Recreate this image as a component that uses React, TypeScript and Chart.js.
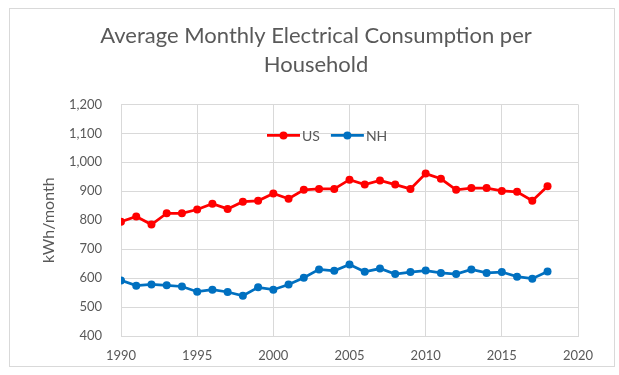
import React, { useEffect, useRef } from 'react';
import { Chart, registerables } from 'chart.js';

Chart.register(...registerables);

const years = [1990, 1991, 1992, 1993, 1994, 1995, 1996, 1997, 1998, 1999, 2000, 2001, 2002, 2003, 2004, 2005, 2006, 2007, 2008, 2009, 2010, 2011, 2012, 2013, 2014, 2015, 2016, 2017, 2018];
const usValues = [795, 813, 785, 824, 824, 837, 857, 839, 864, 867, 892, 874, 905, 908, 908, 940, 923, 937, 923, 908, 961, 943, 905, 911, 911, 901, 898, 867, 917];
const nhValues = [592, 574, 578, 575, 571, 553, 560, 552, 539, 568, 560, 578, 601, 630, 625, 647, 622, 633, 614, 621, 626, 618, 614, 630, 618, 621, 605, 598, 623];
const seriesNames = ['US', 'NH'];
const seriesColors = ['#ff0000', '#0070c0'];
const titleLines = ['Average Monthly Electrical Consumption per', 'Household'];
const yAxisTitle = 'kWh/month';

const FONT = 'Lato, "Liberation Sans", sans-serif';
const TEXT = '#595959';
const GRID = '#d9d9d9';

const legendPlugin = {
  id: 'inlineLegend',
  afterDraw(chart: any) {
    const { ctx, chartArea } = chart;
    const y = chartArea.top + 31;
    ctx.save();
    ctx.font = `14px ${FONT}`;
    ctx.textBaseline = 'middle';
    ctx.textAlign = 'left';
    let x = 257;
    chart.data.datasets.forEach((ds: any) => {
      const color = ds.borderColor;
      ctx.strokeStyle = color;
      ctx.lineWidth = 2.75;
      ctx.beginPath();
      ctx.moveTo(x, y);
      ctx.lineTo(x + 33, y);
      ctx.stroke();
      ctx.fillStyle = color;
      ctx.beginPath();
      ctx.arc(x + 16.5, y, 4, 0, Math.PI * 2);
      ctx.fill();
      ctx.fillStyle = TEXT;
      ctx.fillText(ds.label, x + 35, y + 1);
      x += 35 + ctx.measureText(ds.label).width + 11;
    });
    ctx.restore();
  },
};

export default function App() {
  const canvasRef = useRef<HTMLCanvasElement | null>(null);

  useEffect(() => {
    if (!canvasRef.current) return;
    const makeData = (vals: number[]) => years.map((yr, i) => ({ x: yr, y: vals[i] }));
    const chart = new Chart(canvasRef.current, {
      type: 'line',
      data: {
        datasets: [usValues, nhValues].map((vals, i) => ({
          label: seriesNames[i],
          data: makeData(vals),
          borderColor: seriesColors[i],
          backgroundColor: seriesColors[i],
          borderWidth: 2.75,
          pointRadius: 4,
          pointHoverRadius: 4,
          pointBorderWidth: 0,
          tension: 0,
        })),
      },
      options: {
        animation: false,
        responsive: true,
        maintainAspectRatio: false,
        layout: { padding: { left: 44, right: 36, top: 0, bottom: 0 } },
        plugins: {
          legend: { display: false },
          tooltip: { enabled: false },
          title: {
            display: true,
            text: titleLines,
            color: TEXT,
            font: { family: FONT, size: 22, weight: 'normal', lineHeight: 1.3 },
            padding: { top: 12.6, bottom: 25.6 },
          },
        },
        scales: {
          x: {
            type: 'linear',
            min: 1990,
            max: 2020,
            afterFit: (s: any) => { s.height = 30; },
            ticks: {
              stepSize: 5,
              color: TEXT,
              font: { family: FONT, size: 13 },
              padding: 11.7,
              maxRotation: 0,
              callback: (v: any) => String(v),
            },
            grid: { color: GRID, drawTicks: false, lineWidth: 1 },
            border: { color: GRID, width: 1 },
          },
          y: {
            min: 400,
            max: 1200,
            afterFit: (s: any) => { s.width = 67; },
            ticks: {
              stepSize: 100,
              color: TEXT,
              font: { family: FONT, size: 13 },
              padding: 19,
              callback: (v: any) => Number(v).toLocaleString('en-US'),
            },
            grid: { color: GRID, drawTicks: false, lineWidth: 1 },
            border: { color: GRID, width: 1 },
            title: {
              display: true,
              text: yAxisTitle,
              color: TEXT,
              font: { family: FONT, size: 16 },
              padding: { top: -14.6, bottom: 0 },
            },
          },
        },
      },
      plugins: [legendPlugin],
    });
    return () => chart.destroy();
  }, []);

  return (
    <div
      style={{
        position: 'absolute',
        left: 9,
        top: 8,
        width: 606,
        height: 359,
        border: '1px solid #d9d9d9',
        boxSizing: 'border-box',
        background: '#ffffff',
      }}
    >
      <div style={{ position: 'relative', width: 604, height: 357 }}>
        <canvas ref={canvasRef} />
      </div>
    </div>
  );
}
